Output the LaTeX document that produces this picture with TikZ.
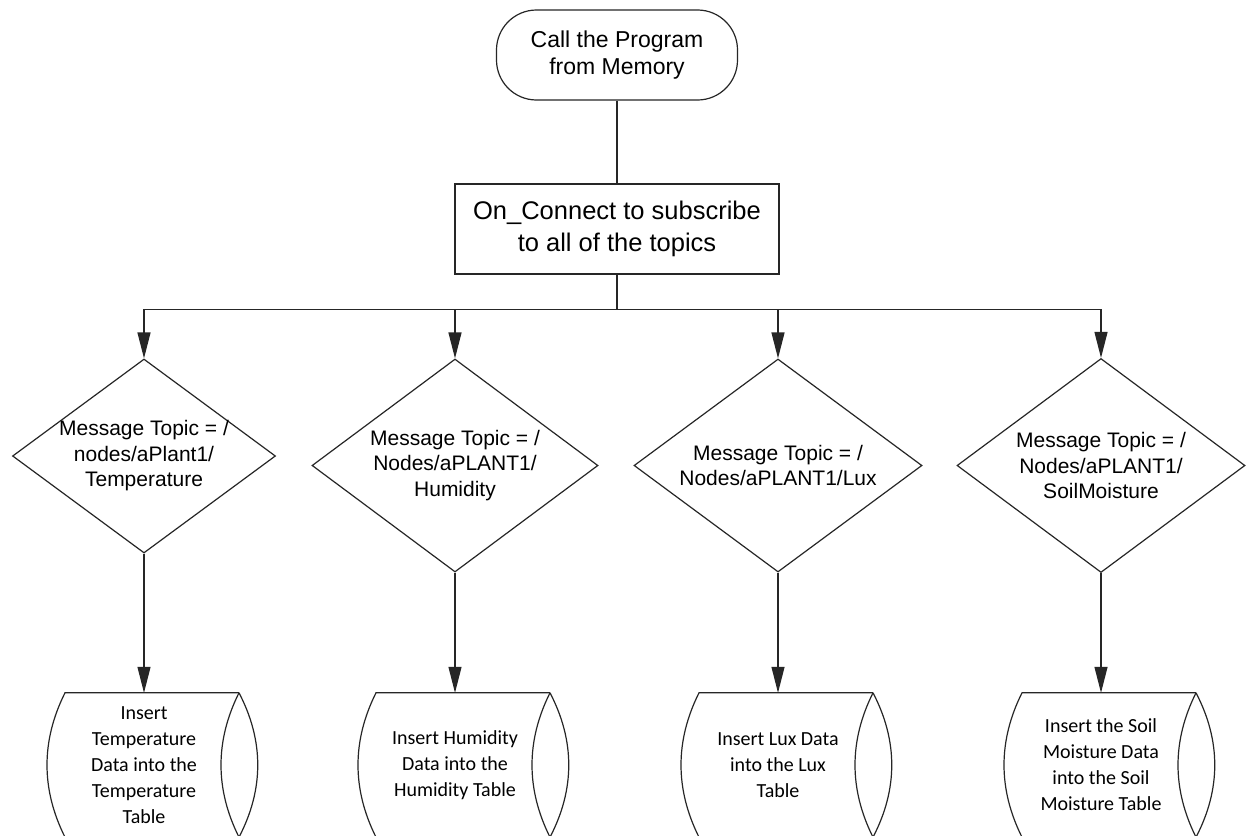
\documentclass[tikz,border=0pt]{standalone}
\usepackage{fontspec}
\setmainfont{Liberation Sans}
\newfontfamily\sdfont{Carlito}
\usetikzlibrary{shapes.geometric,arrows.meta,calc}
\tikzset{
  conn/.style={draw=black!85, line width=1.2pt},
  arr/.style={conn, -{Triangle[length=26pt,width=13pt]}},
  term/.style={draw=black!85, line width=1.2pt, rounded corners=40pt, minimum width=241pt, minimum height=90pt, inner sep=0pt, align=center, font=\fontsize{23}{27}\selectfont},
  proc/.style={draw=black!85, line width=1.2pt, minimum width=324pt, minimum height=90pt, inner sep=0pt, align=center, font=\fontsize{25.5}{32}\selectfont},
  dia/.style={diamond, draw=black!85, line width=1.2pt, inner sep=0pt},
  dtext/.style={align=center, inner sep=0pt, font=\fontsize{21}{25.5}\selectfont},
  sd/.style={minimum height=144pt, minimum width=10pt, inner sep=0pt, align=center, font=\sdfont\fontsize{20}{26}\selectfont},
}
\newcommand\sdshape[1]{%
  \draw[conn] ($(#1.north)+(95,0)$) -- ($(#1.north)+(-79,0)$)
     .. controls +(-24,48) and +(-24,-48) .. ($(#1.south)+(-79,0)$)
     -- ($(#1.south)+(95,0)$);
  \draw[conn] ($(#1.north)+(95,0)$)
     .. controls +(25,48) and +(25,-48) .. ($(#1.south)+(95,0)$)
     .. controls +(-24,-48) and +(-24,48) .. ($(#1.north)+(95,0)$);
}
\begin{document}
\begin{tikzpicture}[x=1pt,y=-1pt]
\useasboundingbox (0,0) rectangle (1246,835);
\clip (0,0) rectangle (1246,835);
\fill[white] (0,0) rectangle (1246,835);

\node[term] (t) at (617,55) {Call the Program\\from Memory};
\node[proc] (r) at (617,229) {On\_Connect to subscribe\\to all of the topics};

\node[dia, minimum width=263pt, minimum height=194pt] (d1) at (144,456) {};
\node[dia, minimum width=286pt, minimum height=213pt] (d2) at (455,465.5) {};
\node[dia, minimum width=288pt, minimum height=213pt] (d3) at (778,465.5) {};
\node[dia, minimum width=288pt, minimum height=214pt] (d4) at (1101,465.5) {};

\node[dtext] (d1t) at (d1.center) {Message Topic = /\\nodes/aPlant1/\\Temperature};
\node[dtext] (d2t) at (d2.center) {Message Topic = /\\Nodes/aPLANT1/\\Humidity};
\node[dtext] (d3t) at (d3.center) {Message Topic = /\\Nodes/aPLANT1/Lux};
\node[dtext] (d4t) at (d4.center) {Message Topic = /\\Nodes/aPLANT1/\\SoilMoisture};

\node[sd] (s1) at (144,765) {Insert\\Temperature\\Data into the\\Temperature\\Table};
\node[sd] (s2) at (455,765) {Insert Humidity\\Data into the\\Humidity Table};
\node[sd] (s3) at (778,765) {Insert Lux Data\\into the Lux\\Table};
\node[sd] (s4) at (1101,765) {Insert the Soil\\Moisture Data\\into the Soil\\Moisture Table};

\sdshape{s1}
\sdshape{s2}
\sdshape{s3}
\sdshape{s4}

\draw[conn] (t.south) -- (r.north);
\foreach \d in {d1,d2,d3,d4}{
  \draw[arr] (r.south) -- ++(0,35) -| (\d.north);
}
\draw[arr] (d1.south) -- (s1.north);
\draw[arr] (d2.south) -- (s2.north);
\draw[arr] (d3.south) -- (s3.north);
\draw[arr] (d4.south) -- (s4.north);
\end{tikzpicture}
\end{document}
